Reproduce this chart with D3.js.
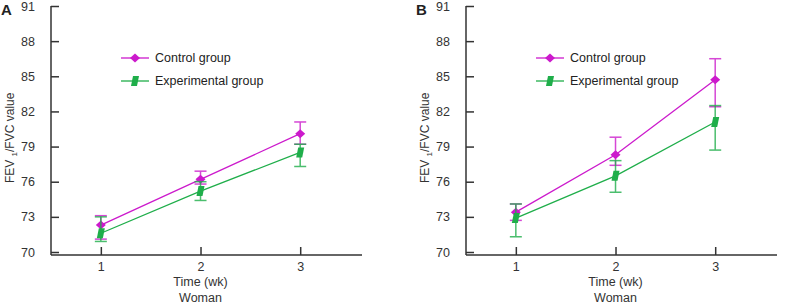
<!DOCTYPE html>
<html>
<head>
<meta charset="utf-8">
<script src="https://cdn.jsdelivr.net/npm/d3@7"></script>
<style>
  html, body { margin: 0; padding: 0; background: #fff; }
  svg { display: block; font-family: "Liberation Sans", Arial, sans-serif; }
</style>
</head>
<body>
<svg id="chart" width="786" height="306"></svg>
<script>
// Data (FEV1/FVC value, women).
const weeks = [1, 2, 3];
const yTicks = [70, 73, 76, 79, 82, 85, 88, 91];
const seriesNames = ["Control group", "Experimental group"];

// Panel A
const controlA = [72.3, 76.2, 80.1];
const controlALow = [71.1, 75.8, 79.2];
const controlAHigh = [73.1, 76.9, 81.1];
const experimentalA = [71.6, 75.2, 78.5];
const experimentalALow = [70.9, 74.4, 77.3];
const experimentalAHigh = [73.0, 76.0, 79.2];

// Panel B
const controlB = [73.4, 78.3, 84.7];
const controlBLow = [72.7, 77.4, 82.4];
const controlBHigh = [74.1, 79.8, 86.5];
const experimentalB = [72.9, 76.5, 81.1];
const experimentalBLow = [71.3, 75.1, 78.7];
const experimentalBHigh = [74.1, 77.8, 82.5];

const controlColor = "#cc1acc";
const experimentalColor = "#1fae4a";

const svg = d3.select("#chart");

/**
 * Draws one panel of the figure.
 */
function drawPanel(left, label, control, experimental) {
  const axisX = left;
  const axisY = 255;
  const width = 311;

  const g = svg.append("g");

  // Scales.
  const x = d3.scaleLinear().domain([0.5, 3.62]).range([axisX, axisX + width]);
  const y = d3.scaleLinear().domain([70, 91]).range([252, 6]);

  // Panel letter.
  g.append("text")
    .attr("x", axisX - 50)
    .attr("y", 15)
    .attr("font-size", 15)
    .attr("font-weight", "bold")
    .attr("fill", "#222")
    .text(label);

  // y-axis ticks and labels.
  const yAxis = g.append("g")
    .attr("transform", `translate(${axisX}, 0)`)
    .call(d3.axisLeft(y).tickValues(yTicks).tickSize(-8).tickPadding(16));
  yAxis.select(".domain").remove();
  yAxis.selectAll("line").attr("stroke", "#333").attr("stroke-width", 1.5);
  yAxis.selectAll("text")
    .attr("font-size", 12.5)
    .attr("fill", "#333")
    .attr("font-family", "Liberation Sans, Arial, sans-serif");

  // x-axis ticks and labels.
  const xAxis = g.append("g")
    .attr("transform", `translate(0, ${axisY})`)
    .call(d3.axisBottom(x).tickValues(weeks).tickSize(-8).tickPadding(7).tickFormat(d3.format("d")));
  xAxis.select(".domain").remove();
  xAxis.selectAll("line").attr("stroke", "#333").attr("stroke-width", 1.5);
  xAxis.selectAll("text")
    .attr("font-size", 12.5)
    .attr("fill", "#333")
    .attr("font-family", "Liberation Sans, Arial, sans-serif");

  // Axis lines.
  g.append("line")
    .attr("x1", axisX).attr("x2", axisX)
    .attr("y1", y(91)).attr("y2", axisY)
    .attr("stroke", "#333").attr("stroke-width", 1.5);
  g.append("line")
    .attr("x1", axisX).attr("x2", axisX + width)
    .attr("y1", axisY).attr("y2", axisY)
    .attr("stroke", "#333").attr("stroke-width", 1.5);

  // Axis titles.
  const yTitle = g.append("text")
    .attr("transform", `translate(${axisX - 37}, ${(y(80) + 3)}) rotate(-90)`)
    .attr("text-anchor", "middle")
    .attr("font-size", 12)
    .attr("fill", "#333");
  yTitle.append("tspan").text("FEV ");
  yTitle.append("tspan").attr("font-size", 8).attr("dy", 3).text("1");
  yTitle.append("tspan").attr("dy", -3).text("/FVC value");

  g.append("text")
    .attr("x", x(2))
    .attr("y", 286)
    .attr("text-anchor", "middle")
    .attr("font-size", 12.5)
    .attr("fill", "#333")
    .text("Time (wk)");
  g.append("text")
    .attr("x", x(2))
    .attr("y", 302)
    .attr("text-anchor", "middle")
    .attr("font-size", 12.5)
    .attr("fill", "#333")
    .text("Woman");

  const diamond = "M0,-4.5L5,0L0,4.5L-5,0Z";
  const para = "M-2,-5L4,-5L2,5L-4,5Z";

  // Series.
  const series = [
    { name: seriesNames[0], color: controlColor, shape: diamond, ...control },
    { name: seriesNames[1], color: experimentalColor, shape: para, ...experimental },
  ];

  series.forEach((s) => {
    const pts = weeks.map((w, i) => ({ w, v: s.mean[i], lo: s.low[i], hi: s.high[i] }));

    // Line.
    g.append("path")
      .datum(pts)
      .attr("fill", "none")
      .attr("stroke", s.color)
      .attr("stroke-width", 1.3)
      .attr("d", d3.line().x((d) => x(d.w)).y((d) => y(d.v)));

    // Error bars.
    const eb = g.append("g")
      .attr("stroke", s.color)
      .attr("stroke-width", 1.5)
      .attr("opacity", 0.8);
    eb.selectAll("line.bar").data(pts).join("line")
      .attr("x1", (d) => x(d.w)).attr("x2", (d) => x(d.w))
      .attr("y1", (d) => y(d.lo)).attr("y2", (d) => y(d.hi));
    eb.selectAll("line.capHi").data(pts).join("line")
      .attr("x1", (d) => x(d.w) - 6).attr("x2", (d) => x(d.w) + 6)
      .attr("y1", (d) => y(d.hi)).attr("y2", (d) => y(d.hi));
    eb.selectAll("line.capLo").data(pts).join("line")
      .attr("x1", (d) => x(d.w) - 6).attr("x2", (d) => x(d.w) + 6)
      .attr("y1", (d) => y(d.lo)).attr("y2", (d) => y(d.lo));

    // Markers.
    g.selectAll(null).data(pts).join("path")
      .attr("d", s.shape)
      .attr("transform", (d) => `translate(${x(d.w)}, ${y(d.v)})`)
      .attr("fill", s.color);
  });

  // Legend.
  series.forEach((s, i) => {
    const ly = 58 + i * 23;
    const lx = axisX + 70;
    g.append("line")
      .attr("x1", lx).attr("x2", lx + 28)
      .attr("y1", ly).attr("y2", ly)
      .attr("stroke", s.color).attr("stroke-width", 1.3);
    g.append("path")
      .attr("d", s.shape)
      .attr("transform", `translate(${lx + 14}, ${ly})`)
      .attr("fill", s.color);
    g.append("text")
      .attr("x", lx + 34)
      .attr("y", ly + 4)
      .attr("font-size", 12.5)
      .attr("fill", "#222")
      .text(s.name);
  });
}

drawPanel(51, "A",
  { mean: controlA, low: controlALow, high: controlAHigh },
  { mean: experimentalA, low: experimentalALow, high: experimentalAHigh });
drawPanel(466, "B",
  { mean: controlB, low: controlBLow, high: controlBHigh },
  { mean: experimentalB, low: experimentalBLow, high: experimentalBHigh });
</script>
</body>
</html>
